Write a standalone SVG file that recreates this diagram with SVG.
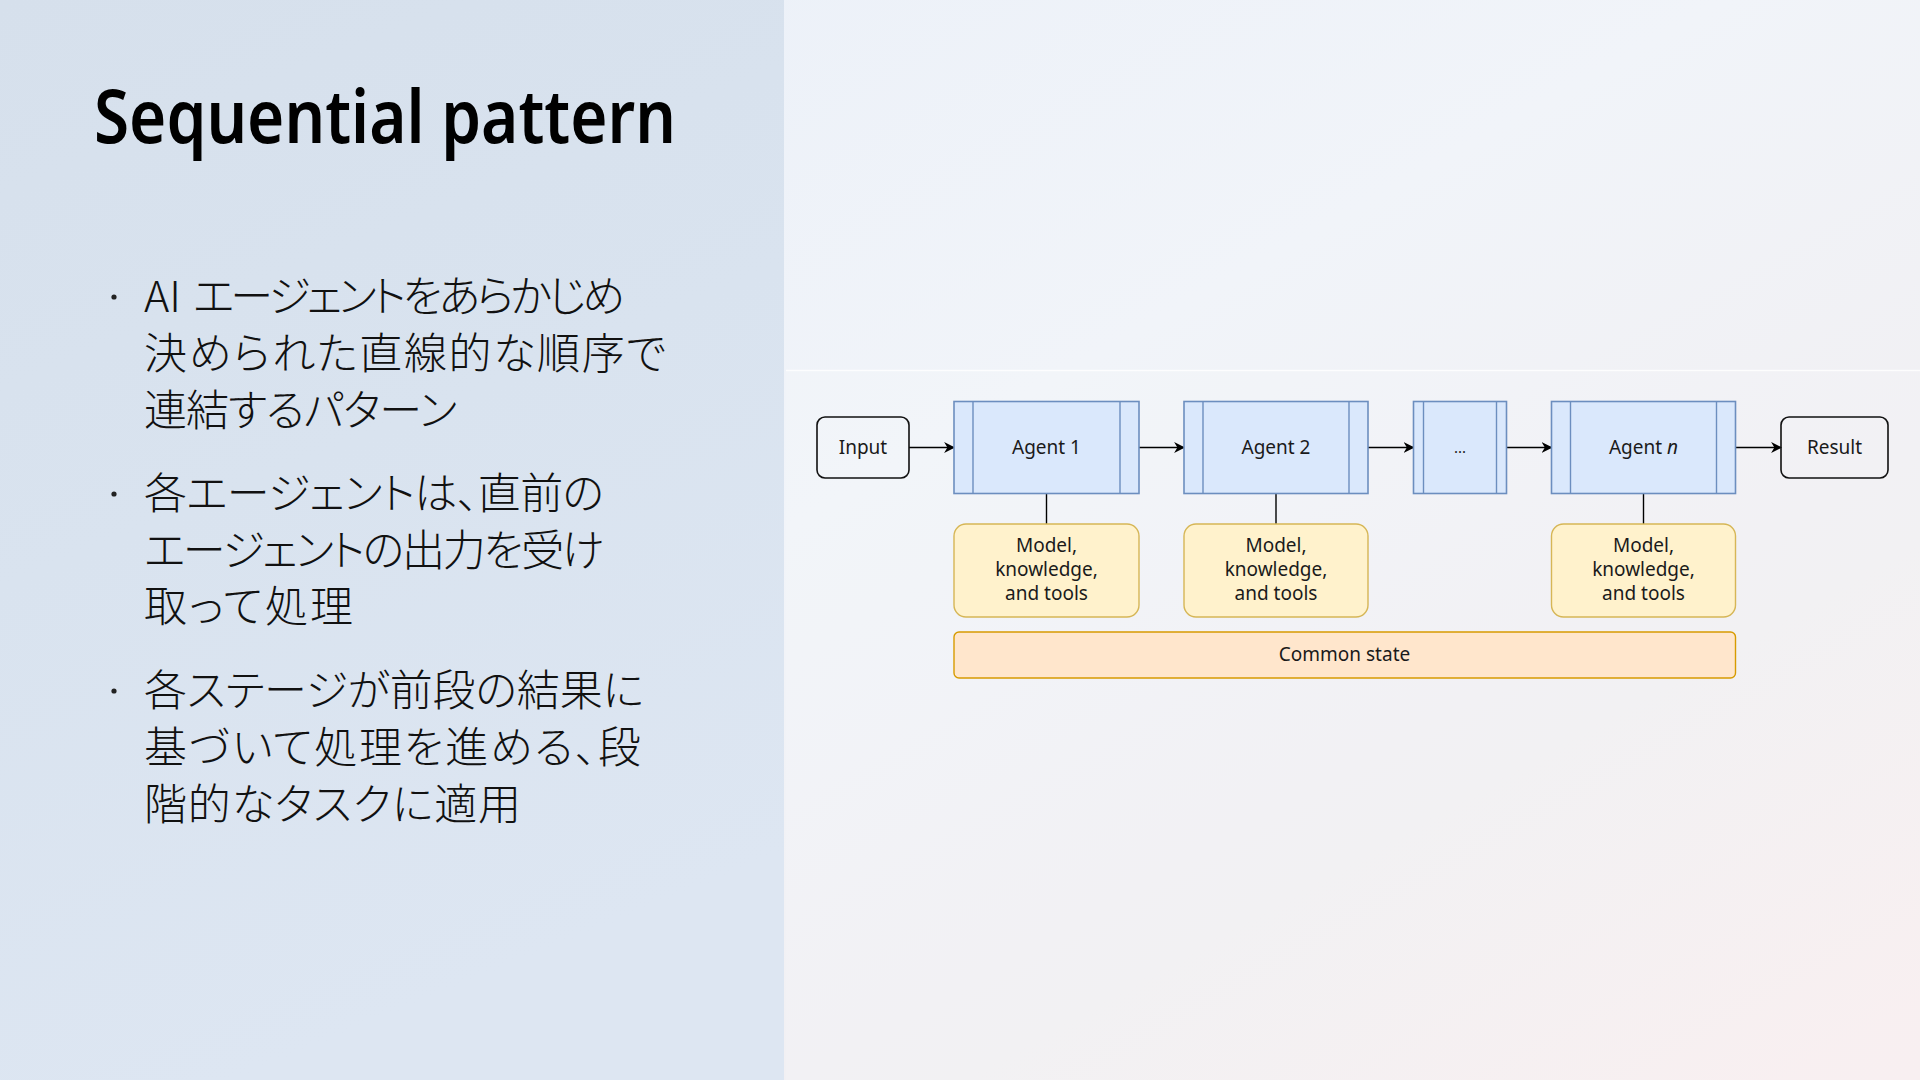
<svg xmlns="http://www.w3.org/2000/svg" width="1920" height="1080" viewBox="0 0 1920 1080">
<defs>
<linearGradient id="bgL" x1="0" y1="0" x2="0.3" y2="1">
<stop offset="0" stop-color="#d6e0ec"/>
<stop offset="0.5" stop-color="#d9e3ef"/>
<stop offset="1" stop-color="#dde6f2"/>
</linearGradient>
<linearGradient id="bgR" x1="0" y1="0" x2="1" y2="1">
<stop offset="0" stop-color="#e9eff8"/>
<stop offset="0.45" stop-color="#f1f4f9"/>
<stop offset="0.75" stop-color="#f1eff2"/>
<stop offset="1" stop-color="#f8edef"/>
</linearGradient>
<marker id="arr" viewBox="0 0 10 10" refX="9" refY="5" markerWidth="11" markerHeight="11" markerUnits="userSpaceOnUse" orient="auto">
<path d="M0,0 L10,5 L0,10 L3,5 Z" fill="#000"/>
</marker>
<style>
.lbl{font-family:"Noto Sans","Open Sans",sans-serif;font-size:19px;fill:#1a1a1a;text-anchor:middle}
.jp{font-family:"Noto Sans CJK JP","Noto Sans",sans-serif;font-size:43px;font-weight:300;fill:#111;font-feature-settings:"palt" 1}
.term{fill:none;stroke:#111;stroke-width:1.6}
.agent{fill:#dae8fc;stroke:#6c8ebf;stroke-width:1.6}
.bar{stroke:#6c8ebf;stroke-width:1.4}
.res{fill:#fff2cc;stroke:#d6b656;stroke-width:1.4}
.state{fill:#ffe6cc;stroke:#d79b00;stroke-width:1.4}
.edge{stroke:#000;stroke-width:1.4;fill:none}
</style>
</defs>
<rect x="0" y="0" width="1920" height="1080" fill="url(#bgR)"/>
<rect x="0" y="0" width="784" height="1080" fill="url(#bgL)"/>
<rect x="786" y="370" width="1134" height="710" fill="#ffffff" fill-opacity="0.12"/>
<line x1="786" y1="370.5" x2="1920" y2="370.5" stroke="#ffffff" stroke-opacity="0.8" stroke-width="1.5"/>

<text x="94" y="143" font-family="'Noto Sans','Open Sans',sans-serif" font-weight="600" font-size="74" fill="#000" textLength="582" lengthAdjust="spacingAndGlyphs">Sequential pattern</text>

<g id="bullets">
<circle cx="114" cy="297" r="2.6" fill="#222"/>
<text class="jp" x="144" y="312">AI <tspan x="193" textLength="432" lengthAdjust="spacing">エージェントをあらかじめ</tspan></text>
<text class="jp" x="144" y="369" textLength="522" lengthAdjust="spacing">決められた直線的な順序で</text>
<text class="jp" x="144" y="426" textLength="313" lengthAdjust="spacing">連結するパターン</text>
<circle cx="114" cy="494" r="2.6" fill="#222"/>
<text class="jp" x="144" y="509" textLength="460" lengthAdjust="spacing">各エージェントは、直前の</text>
<text class="jp" x="144" y="566" textLength="460" lengthAdjust="spacing">エージェントの出力を受け</text>
<text class="jp" x="144" y="622" textLength="209" lengthAdjust="spacing">取って処理</text>
<circle cx="114" cy="691" r="2.6" fill="#222"/>
<text class="jp" x="144" y="706" textLength="500" lengthAdjust="spacing">各ステージが前段の結果に</text>
<text class="jp" x="144" y="763" textLength="497" lengthAdjust="spacing">基づいて処理を進める、段</text>
<text class="jp" x="144" y="820" textLength="377" lengthAdjust="spacing">階的なタスクに適用</text>
</g>

<g id="connectors">
<line class="edge" x1="909" y1="447.5" x2="954" y2="447.5" marker-end="url(#arr)"/>
<line class="edge" x1="1139" y1="447.5" x2="1184" y2="447.5" marker-end="url(#arr)"/>
<line class="edge" x1="1368" y1="447.5" x2="1413.5" y2="447.5" marker-end="url(#arr)"/>
<line class="edge" x1="1506.5" y1="447.5" x2="1551.5" y2="447.5" marker-end="url(#arr)"/>
<line class="edge" x1="1735.5" y1="447.5" x2="1781" y2="447.5" marker-end="url(#arr)"/>
<line class="edge" x1="1046.5" y1="493.5" x2="1046.5" y2="524"/>
<line class="edge" x1="1276" y1="493.5" x2="1276" y2="524"/>
<line class="edge" x1="1643.5" y1="493.5" x2="1643.5" y2="524"/>
</g>

<g id="input">
<rect class="term" x="817" y="417" width="92" height="61" rx="8"/>
<text class="lbl" x="863" y="454">Input</text>
</g>

<g id="agent1">
<rect class="agent" x="954" y="401.5" width="185" height="92"/>
<line class="bar" x1="973" y1="401.5" x2="973" y2="493.5"/>
<line class="bar" x1="1120" y1="401.5" x2="1120" y2="493.5"/>
<text class="lbl" x="1046.5" y="454">Agent 1</text>
</g>

<g id="agent2">
<rect class="agent" x="1184" y="401.5" width="184" height="92"/>
<line class="bar" x1="1203" y1="401.5" x2="1203" y2="493.5"/>
<line class="bar" x1="1349" y1="401.5" x2="1349" y2="493.5"/>
<text class="lbl" x="1276" y="454">Agent 2</text>
</g>

<g id="ellipsis">
<rect class="agent" x="1413.5" y="401.5" width="93" height="92"/>
<line class="bar" x1="1423.5" y1="401.5" x2="1423.5" y2="493.5"/>
<line class="bar" x1="1496.5" y1="401.5" x2="1496.5" y2="493.5"/>
<text class="lbl" x="1460" y="453" style="font-size:15px">...</text>
</g>

<g id="agentn">
<rect class="agent" x="1551.5" y="401.5" width="184" height="92"/>
<line class="bar" x1="1570.5" y1="401.5" x2="1570.5" y2="493.5"/>
<line class="bar" x1="1716.5" y1="401.5" x2="1716.5" y2="493.5"/>
<text class="lbl" x="1643.5" y="454">Agent <tspan font-style="italic">n</tspan></text>
</g>

<g id="result">
<rect class="term" x="1781" y="417" width="107" height="61" rx="8"/>
<text class="lbl" x="1834.5" y="454">Result</text>
</g>

<g id="model1">
<rect class="res" x="954" y="524" width="185" height="93" rx="12"/>
<text class="lbl" x="1046.5" y="552">Model,</text>
<text class="lbl" x="1046.5" y="576">knowledge,</text>
<text class="lbl" x="1046.5" y="600">and tools</text>
</g>

<g id="model2">
<rect class="res" x="1184" y="524" width="184" height="93" rx="12"/>
<text class="lbl" x="1276" y="552">Model,</text>
<text class="lbl" x="1276" y="576">knowledge,</text>
<text class="lbl" x="1276" y="600">and tools</text>
</g>

<g id="modeln">
<rect class="res" x="1551.5" y="524" width="184" height="93" rx="12"/>
<text class="lbl" x="1643.5" y="552">Model,</text>
<text class="lbl" x="1643.5" y="576">knowledge,</text>
<text class="lbl" x="1643.5" y="600">and tools</text>
</g>

<g id="common-state">
<rect class="state" x="954" y="632" width="781.5" height="46" rx="5"/>
<text class="lbl" x="1344.5" y="661">Common state</text>
</g>
</svg>
